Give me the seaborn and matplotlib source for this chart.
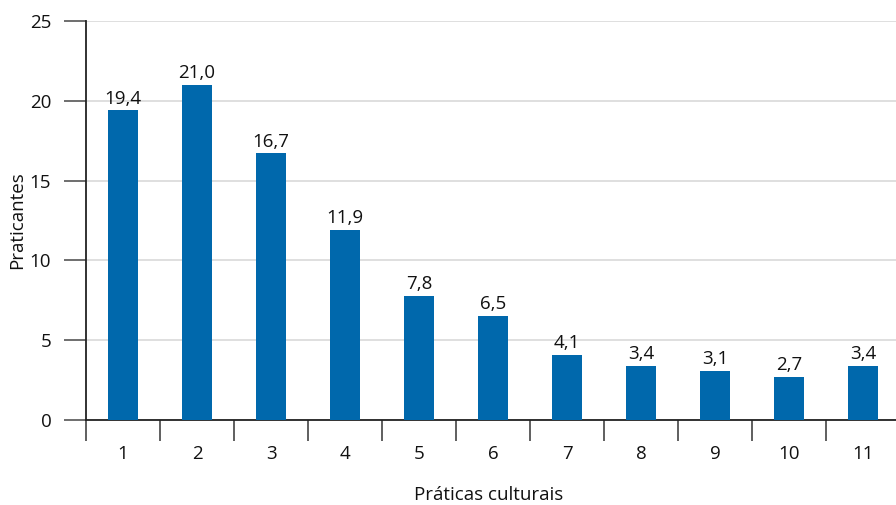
import matplotlib
matplotlib.use("Agg")
import matplotlib.pyplot as plt
import seaborn as sns
import pandas as pd
from matplotlib.ticker import FixedLocator

categorias = ["1", "2", "3", "4", "5", "6", "7", "8", "9", "10", "11"]
praticantes = [19.4, 21.0, 16.7, 11.9, 7.8, 6.5, 4.1, 3.4, 3.1, 2.7, 3.4]
y_ticks = [0, 5, 10, 15, 20, 25]

sns.set_theme(style="white")
plt.rcParams["font.family"] = ["Open Sans", "DejaVu Sans"]

df = pd.DataFrame({"Práticas culturais": categorias, "Praticantes": praticantes})

fig = plt.figure(figsize=(8.96, 5.05), dpi=100)
ax = fig.add_axes([86 / 896, 85 / 505, 814 / 896, 399 / 505])

sns.barplot(data=df, x="Práticas culturais", y="Praticantes", color="#0068AC",
            saturation=1, width=0.4, linewidth=0, edgecolor="none", ax=ax, zorder=3)

ax.set_ylim(0, 25)
ax.set_xlim(-0.5, 10.5)
ax.set_yticks(y_ticks)
ax.yaxis.grid(True, color="#d9d9d9", linewidth=1.2, zorder=0)
ax.xaxis.grid(False)

for s in ["top", "right"]:
    ax.spines[s].set_visible(False)
for s in ["left", "bottom"]:
    ax.spines[s].set_color("#222222")
    ax.spines[s].set_linewidth(1.3)

fs = 13.5
ax.tick_params(axis="y", direction="out", length=16, width=1.2, color="#555555",
               labelsize=fs, pad=9, left=True, labelcolor="#111111")
ax.tick_params(axis="x", which="major", length=0, labelsize=fs, pad=18, labelcolor="#111111")
ax.xaxis.set_minor_locator(FixedLocator([i - 0.5 for i in range(len(categorias) + 1)]))
ax.tick_params(axis="x", which="minor", direction="out", length=15, width=1.2,
               color="#444444", bottom=True)

labels = [f"{v:.1f}".replace(".", ",") for v in praticantes]
ax.bar_label(ax.containers[0], labels=labels, padding=2, fontsize=fs, color="#111111")

ax.set_xlabel("Práticas culturais", fontsize=fs, color="#111111")
ax.set_ylabel("Praticantes", fontsize=fs, color="#111111")
ax.xaxis.set_label_coords((489 - 86) / 814, -75 / 399)
ax.yaxis.set_label_coords(-69 / 814, 0.5)
ax.xaxis.label.set_va("center")
ax.yaxis.label.set_va("center")

fig.savefig("out.png", dpi=100)
